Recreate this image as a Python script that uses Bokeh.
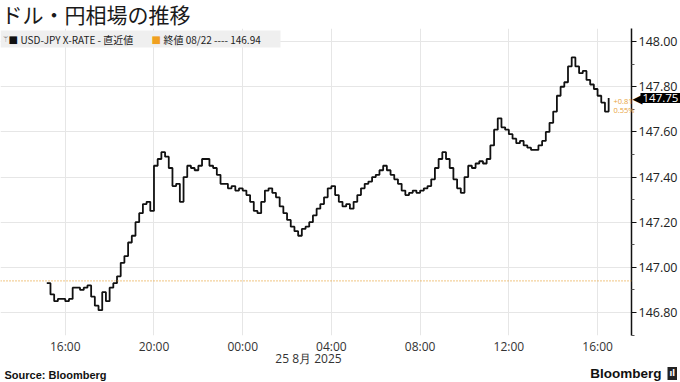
from bokeh.plotting import figure
from bokeh.layouts import column, row
from bokeh.models import (Range1d, LinearAxis, FixedTicker, Label, Span, BoxAnnotation,
                          NumeralTickFormatter)
from bokeh.embed import file_html
from bokeh.resources import INLINE

# ---- data -------------------------------------------------------------
# hours relative to 2025-08-25 00:00, 10-minute bars from 08/24 15:10
start_hour = -8 - 50 / 60
bar_minutes = 10
closes = [
    146.93, 146.88, 146.85, 146.86, 146.86, 146.85, 146.86, 146.91, 146.91, 146.90,
    146.91, 146.92, 146.87, 146.83, 146.81, 146.89, 146.85, 146.91, 146.93, 146.96,
    147.02, 147.05, 147.11, 147.14, 147.20, 147.24, 147.28, 147.29, 147.25, 147.45,
    147.48, 147.51, 147.49, 147.44, 147.36, 147.37, 147.29, 147.40, 147.45, 147.44,
    147.43, 147.45, 147.48, 147.48, 147.45, 147.44, 147.41, 147.37, 147.37, 147.35,
    147.36, 147.34, 147.35, 147.34, 147.32, 147.29, 147.25, 147.24, 147.29, 147.34,
    147.35, 147.33, 147.31, 147.27, 147.24, 147.21, 147.18, 147.16, 147.14, 147.17,
    147.18, 147.20, 147.23, 147.26, 147.28, 147.31, 147.35, 147.36, 147.32, 147.29,
    147.27, 147.28, 147.26, 147.29, 147.32, 147.35, 147.37, 147.38, 147.40, 147.41,
    147.43, 147.45, 147.43, 147.41, 147.39, 147.37, 147.34, 147.32, 147.33, 147.34,
    147.33, 147.34, 147.35, 147.36, 147.39, 147.44, 147.48, 147.51, 147.48, 147.44,
    147.39, 147.35, 147.33, 147.40, 147.45, 147.44, 147.46, 147.47, 147.46, 147.48,
    147.54, 147.61, 147.66, 147.62, 147.61, 147.59, 147.57, 147.55, 147.56, 147.54,
    147.53, 147.52, 147.52, 147.54, 147.56, 147.60, 147.64, 147.69, 147.76, 147.80,
    147.82, 147.89, 147.93, 147.89, 147.86, 147.87, 147.83, 147.81, 147.79, 147.76,
    147.73, 147.69, 147.75,
]
hours = [start_hour + i * bar_minutes / 60 for i in range(len(closes))]
prev_close = 146.94
prev_close_date = "08/22"
series_name = "USD-JPY X-RATE - 直近値"
x_tick_hours = [-8, -4, 0, 4, 8, 12, 16]
x_tick_labels = ["16:00", "20:00", "00:00", "04:00", "08:00", "12:00", "16:00"]
y_ticks = [146.8, 147.0, 147.2, 147.4, 147.6, 147.8, 148.0]
y_minor_ticks = [146.7, 146.9, 147.1, 147.3, 147.5, 147.7, 147.9]
date_label = "25 8月 2025"
title_text = "ドル・円相場の推移"
source_text = "Source: Bloomberg"
brand_text = "Bloomberg"

# ---- layout constants ---------------------------------------------------
W, H = 680, 382
FT, FB = 28, 335          # frame top / bottom (px from top)
FR = 633                  # frame right
X0, X1 = -10.92, 17.53
Y0, Y1 = 146.698, 148.058


def ypx(v):
    """pixel row (from top) of a price on the main chart"""
    return FT + (Y1 - v) * (FB - FT) / (Y1 - Y0)


# ---- main chart ---------------------------------------------------------
p = figure(width=W, height=H, output_backend="svg", toolbar_location=None,
           x_range=Range1d(X0, X1), y_range=Range1d(Y0, Y1),
           x_axis_location=None, y_axis_location="right",
           min_border_left=0, min_border_right=W - FR,
           min_border_top=FT, min_border_bottom=H - FB,
           title=None)
p.outline_line_color = None
p.background_fill_color = "white"
p.border_fill_color = "white"

ya = p.yaxis[0]
ya.ticker = FixedTicker(ticks=y_ticks, minor_ticks=y_minor_ticks)
ya.formatter = NumeralTickFormatter(format="0.00")
ya.axis_line_color = "#111111"
ya.axis_line_width = 1.5
ya.major_tick_line_color = "#111111"
ya.major_tick_out = 5
ya.major_tick_in = 0
ya.minor_tick_line_color = "#555555"
ya.minor_tick_out = 3
ya.minor_tick_in = 0
ya.major_label_standoff = 2
ya.major_label_text_font = "Open Sans"
ya.major_label_text_font_size = "12.5px"
ya.major_label_text_color = "#222222"

xa = LinearAxis(ticker=FixedTicker(ticks=x_tick_hours),
                major_label_overrides={h: l for h, l in zip(x_tick_hours, x_tick_labels)})
xa.axis_line_color = None
xa.major_tick_line_color = None
xa.major_tick_out = 0
xa.major_tick_in = 0
xa.minor_tick_line_color = None
xa.minor_tick_out = 0
xa.major_label_standoff = 2
xa.major_label_text_font = "Open Sans"
xa.major_label_text_font_size = "12px"
xa.major_label_text_color = "#333333"
p.add_layout(xa, "below")

p.xgrid.ticker = FixedTicker(ticks=x_tick_hours)
p.xgrid.grid_line_color = "#e6e6e6"
p.ygrid.ticker = FixedTicker(ticks=y_ticks)
p.ygrid.grid_line_color = "#e6e6e6"

p.add_layout(Span(location=prev_close, dimension="width", line_color="#e8a33a",
                  line_dash="1 2", line_width=1.2))

p.step(hours, closes, mode="after", line_color="#111111", line_width=1.8)

# ---- transparent overlay for the texts outside the chart frame ------------
o = figure(width=W, height=H, output_backend="svg", toolbar_location=None,
           x_range=Range1d(0, W), y_range=Range1d(H, 0),
           x_axis_location=None, y_axis_location=None,
           min_border=0, title=None)
o.outline_line_color = None
o.background_fill_color = None
o.border_fill_color = None
o.xgrid.visible = False
o.ygrid.visible = False


def lab(x, y, text, size, color="#222222", font="Noto Sans CJK JP", align="left",
        style="normal", **kw):
    o.add_layout(Label(x=x, y=y, text=text, text_font=font, text_font_size=size,
                       text_color=color, text_align=align, text_baseline="middle",
                       text_font_style=style, **kw))


# title
lab(1, 13, title_text, "21px", color="#1a1a1a")

# legend strip
o.add_layout(BoxAnnotation(left=0, right=280, top=30, bottom=47,
                           fill_color="#efefef", fill_alpha=1, line_color=None))
lab(2, 39, "ᛘ", "9px", color="#999999", font="DejaVu Sans")
lab(8, 39, "■", "10px", color="#111111", font="DejaVu Sans")
lab(20, 39, series_name, "10px", color="#222222")
lab(151, 39, "■", "10px", color="#f0a020", font="DejaVu Sans")
lab(163, 39, f"終値 {prev_close_date} ---- {prev_close:.2f}", "10px", color="#222222")

# last price tag
last = closes[-1]
chg = last - prev_close
pct = chg / prev_close * 100
ty = ypx(last)
lab(613, ty + 3, f"{chg:+.2f}", "7.5px", color="#e8a33a", font="Open Sans")
lab(613, ty + 12, f"{pct:.2f}%", "7.5px", color="#e8a33a", font="Open Sans")
lab(632, ty, "◀", "13px", color="#000000", font="DejaVu Sans")
lab(640, ty, f"{last:.2f}", "11.5px", color="white", font="Open Sans",
    background_fill_color="black", padding=(2, 1))

# date under the time axis
lab(308, 358, date_label, "12px", color="#333333", font="Open Sans", align="center")

# footer
lab(4, 374, source_text, "11px", color="#111111", font="Liberation Sans", style="bold")
lab(661, 373, brand_text, "13.5px", color="#111111", font="Liberation Sans",
    style="bold", align="right")
lab(667, 373, "ıl", "8px", color="white", font="DejaVu Sans", style="bold",
    background_fill_color="#222222", padding=2)

wrapped = row(o, margin=(-H, 0, 0, 0))
open("out.html", "w").write(file_html(column(p, wrapped, spacing=0), INLINE))
